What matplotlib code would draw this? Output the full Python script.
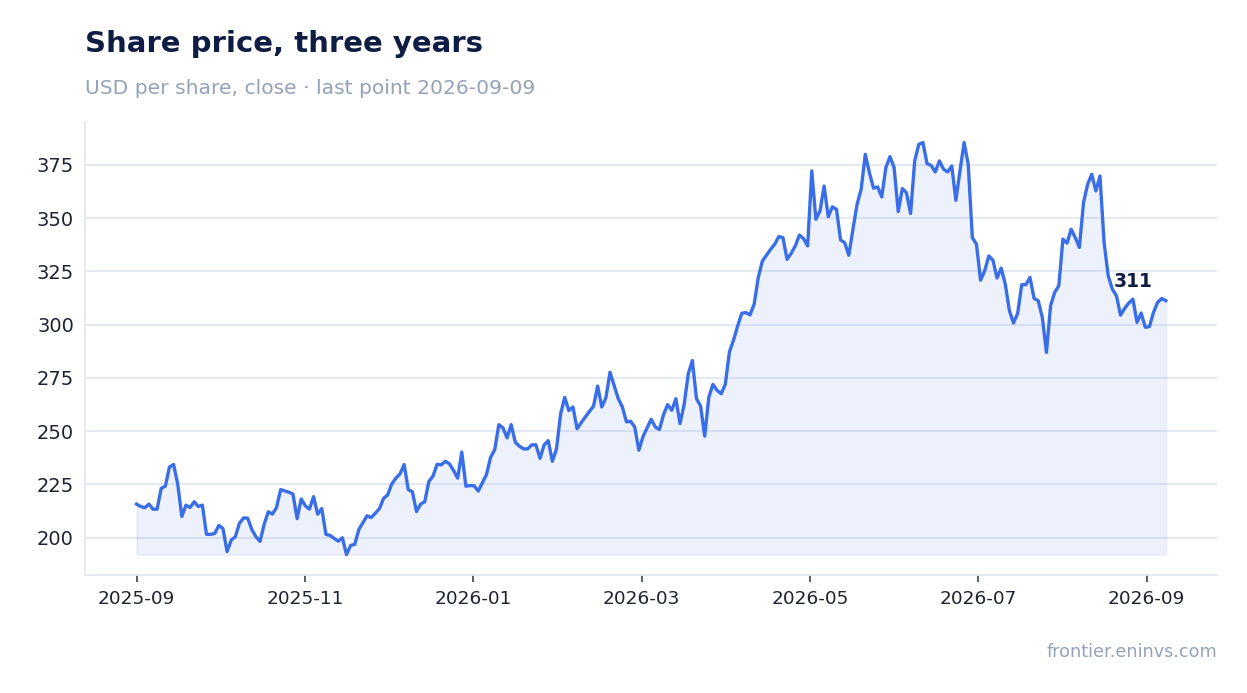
import numpy as np
import pandas as pd
import matplotlib
matplotlib.use('Agg')
import matplotlib.pyplot as plt
import matplotlib.dates as mdates

START = '2025-09-01'
END = '2026-09-09'

closes = [
	215.8, 214.7, 214.1, 215.8, 213.4, 213.4, 223.2, 224.2, 233.2, 234.4,
	225.3, 210.0, 215.3, 214.2, 216.9, 214.7, 215.3, 201.6, 201.6, 202.0,
	205.8, 204.3, 193.5, 198.9, 200.5, 206.8, 209.3, 209.2, 203.9, 200.5,
	198.3, 206.3, 212.2, 211.1, 214.2,
	222.6, 222.0, 221.4, 220.5, 209.0, 218.2, 215.0, 213.4, 219.3, 211.1,
	213.7, 201.6, 201.1, 199.7, 198.4, 200.0, 192.1, 196.4, 196.9, 203.9,
	207.1, 210.3, 209.5, 211.5, 213.7, 218.5, 220.1, 225.3, 228.0, 230.0,
	234.4, 222.6, 221.6, 212.3, 215.8, 216.9,
	226.4, 228.9, 234.5, 234.2, 235.9, 234.7, 231.6, 228.0, 240.2, 224.2,
	224.5, 224.4, 221.9, 225.8, 229.7, 237.8, 241.4, 253.1, 251.6, 246.9,
	253.1, 244.8, 243.0, 241.7, 241.7, 243.6, 243.6, 237.3, 243.6, 245.6,
	235.9, 241.7, 258.1, 265.9, 259.7,
	261.4, 251.2, 254.0, 256.7, 259.3, 261.8, 271.2, 261.4, 265.7, 277.7,
	271.5, 265.3, 261.4, 254.4, 254.7, 252.0, 241.1, 247.4, 251.6, 255.6,
	252.0, 250.8, 257.8, 262.5, 259.8, 265.3, 253.6, 262.5, 276.9, 283.2,
	265.3, 261.8, 247.7, 266.0, 272.0, 269.2, 267.6,
	272.0, 287.2, 292.8, 299.4, 305.4, 305.7, 304.6, 309.6, 322.1, 329.9,
	332.6, 335.4, 337.8, 341.4, 340.9, 330.7, 333.5, 337.0, 342.1, 340.4,
	337.0, 372.2, 349.5, 353.4, 365.1, 350.7, 355.3, 354.2, 339.8, 338.5,
	332.6, 344.8, 356.5, 363.6, 380.0, 371.4,
	364.1, 364.7, 360.0, 373.8, 378.9, 373.8, 353.1, 363.9, 362.0, 352.2,
	376.9, 384.7, 385.5, 375.6, 374.8, 371.7, 376.9, 373.0, 371.7, 374.5,
	358.4, 372.2, 385.5, 375.3, 340.9, 337.8, 320.9, 325.3, 332.3, 330.3,
	321.9, 326.6, 319.1, 306.6, 300.8, 305.3, 318.8,
	318.8, 322.2, 312.3, 311.3, 303.4, 287.0, 308.9, 315.2, 318.3, 340.2,
	338.3, 344.8, 340.9, 336.3, 357.3, 365.9, 370.6, 362.8, 369.8, 338.6,
	323.0, 316.7, 313.6, 304.5, 307.7, 310.2, 312.0, 301.1, 305.5, 298.8,
	299.1, 305.8, 310.5, 312.3, 311.3,
]

# ticks every 61 days from the first close, labelled by month
tick_dates = pd.date_range(START, periods=7, freq='61D')

LINE = '#3a6ee8'
NAVY = '#0f1d45'
MUTED = '#94a3b8'
GRID = '#e3e7f0'


def main():
	dates = pd.date_range(START, END, periods=len(closes))
	y = np.array(closes)

	fig = plt.figure(figsize=(12.47, 6.93), dpi=100)
	ax = fig.add_axes([0.0682, 0.170, 0.908, 0.654])

	ax.fill_between(dates, y, y.min(), color=LINE, alpha=0.09, linewidth=1)
	ax.plot(dates, y, color=LINE, linewidth=2.4, solid_joinstyle='round')

	ax.set_xticks(tick_dates)
	ax.xaxis.set_major_formatter(mdates.DateFormatter('%Y-%m'))
	ax.set_yticks([200, 225, 250, 275, 300, 325, 350, 375])

	ax.grid(axis='y', color=GRID, linewidth=1.3)
	ax.set_axisbelow(True)
	for side in ['top', 'right']:
		ax.spines[side].set_visible(False)
	for side in ['left', 'bottom']:
		ax.spines[side].set_color(GRID)
		ax.spines[side].set_linewidth(1.3)
	ax.tick_params(axis='y', length=0, labelsize=14, labelcolor='#1e2433', pad=8)
	ax.tick_params(axis='x', length=5, width=1.3, color='#4a5060', labelsize=13.3,
				   labelcolor='#1e2433', pad=6)

	ax.annotate(f'{y[-1]:.0f}', (dates[-1], y[-1]), xytext=(-13, 19),
				textcoords='offset pixels', ha='right', va='center',
				fontsize=13.5, fontweight='bold', color=NAVY)

	fig.text(0.0682, 0.936, 'Share price, three years', fontsize=21,
			 fontweight='bold', color=NAVY, va='center')
	fig.text(0.0682, 0.873, 'USD per share, close · last point 2026-09-09',
			 fontsize=14.6, color=MUTED, va='center')
	fig.text(0.976, 0.059, 'frontier.eninvs.com', fontsize=12.7, color=MUTED,
			 ha='right', va='center')

	fig.savefig('out.png', dpi=100)
	return

if __name__ == '__main__':
	main()
